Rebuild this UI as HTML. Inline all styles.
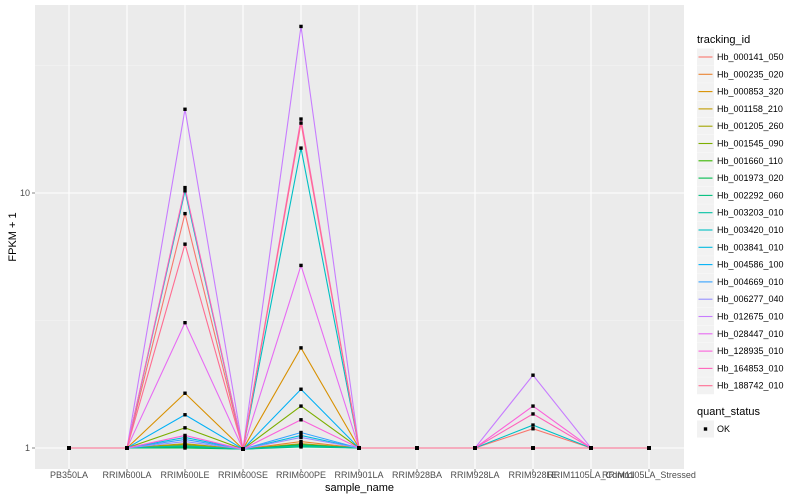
<!DOCTYPE html>
<html><head><meta charset="utf-8"><style>
body{margin:0;background:#fff;}
svg{display:block;font-family:"Liberation Sans",sans-serif;}
</style></head><body>
<svg id="chart" width="800" height="500"></svg>
<script>
const categories=["PB350LA","RRIM600LA","RRIM600LE","RRIM600SE","RRIM600PE","RRIM901LA","RRIM928BA","RRIM928LA","RRIM928LE","RRIM1105LA_Control","RRIM1105LA_Stressed"];
const seriesNames=["Hb_000141_050","Hb_000235_020","Hb_000853_320","Hb_001158_210","Hb_001205_260","Hb_001545_090","Hb_001660_110","Hb_001973_020","Hb_002292_060","Hb_003203_010","Hb_003420_010","Hb_003841_010","Hb_004586_100","Hb_004669_010","Hb_006277_040","Hb_012675_010","Hb_028447_010","Hb_128935_010","Hb_164853_010","Hb_188742_010"];
const colors=["#F8766D","#EA8331","#D89000","#C09B00","#A3A500","#7CAE00","#39B600","#00BB4E","#00BF7D","#00C1A3","#00BFC4","#00BAE0","#00B0F6","#35A2FF","#9590FF","#C77CFF","#E76BF3","#FA62DB","#FF62BC","#FF6C91"];
const valLE=[8.3,1.02,1.64,1.04,1.03,1.2,1.01,1.0,1.01,1.02,10.2,1.1,1.35,1.08,1.06,21.3,3.1,1.12,10.5,6.3];
const valPE=[1.03,1.06,2.47,1.04,1.03,1.46,1.02,1.03,1.01,1.02,15,1.12,1.7,1.15,1.1,45,5.2,1.29,19.5,18.8];
const val928LE=[1.19,1,1,1,1,1,1,1,1,1,1.23,1,1,1,1,1.93,1,1.46,1.36,1];
const valSE=0.99;
const yTicks=[1,10];
const yMinor=[Math.sqrt(10),Math.sqrt(1000)];

const svg=document.getElementById('chart');
const NS="http://www.w3.org/2000/svg";
function mk(tag,attrs,parent){const e=document.createElementNS(NS,tag);for(const k in attrs)e.setAttribute(k,attrs[k]);(parent||svg).appendChild(e);return e;}
const PL=35,PR=684,PT=5,PB=469;
const xScale=i=>69+i*58;
const yScale=v=>448-255*Math.log10(v);

const panel=mk('rect',{x:PL,y:PT,width:PR-PL,height:PB-PT,fill:'#EBEBEB'});


yMinor.forEach(v=>{const l=mk('line',{x1:PL,x2:PR,y1:yScale(v),y2:yScale(v),stroke:'#F5F5F5','stroke-width':0.6});

});
yTicks.forEach(v=>{const l=mk('line',{x1:PL,x2:PR,y1:yScale(v),y2:yScale(v),stroke:'#fff','stroke-width':1.1});

});
categories.forEach((c,i)=>{const l=mk('line',{x1:xScale(i),x2:xScale(i),y1:PT,y2:PB,stroke:'#fff','stroke-width':1.1});

});

function seriesValues(s){return categories.map((c,i)=>i===2?valLE[s]:i===4?valPE[s]:i===8?val928LE[s]:i===3?valSE:1);}
seriesNames.forEach((n,s)=>{const vals=seriesValues(s);
const p=mk('polyline',{points:vals.map((v,i)=>xScale(i)+','+yScale(v)).join(' '),fill:'none',stroke:colors[s],'stroke-width':1.1});

});
seriesNames.forEach((n,s)=>{seriesValues(s).forEach((v,i)=>{
const r=mk('rect',{x:xScale(i)-1.7,y:yScale(v)-1.7,width:3.4,height:3.4,fill:'#000'});

});});

yTicks.forEach(v=>{const y=yScale(v);
mk('line',{x1:PL-3,x2:PL,y1:y,y2:y,stroke:'#333','stroke-width':0.6});
const t=mk('text',{x:PL-5,y:y+3,'text-anchor':'end','font-size':9,fill:'#4D4D4D'});t.textContent=v;

});
categories.forEach((c,i)=>{const x=xScale(i);
mk('line',{x1:x,x2:x,y1:PB,y2:PB+3,stroke:'#333','stroke-width':0.6});
const t=mk('text',{x:x,y:PB+9,'text-anchor':'middle','font-size':9,fill:'#4D4D4D'});t.textContent=c;

});
let t=mk('text',{x:(PL+PR)/2,y:491,'text-anchor':'middle','font-size':11,fill:'#000'});t.textContent='sample_name';


t=mk('text',{x:16,y:(PT+PB)/2,'text-anchor':'middle','font-size':11,fill:'#000',transform:'rotate(-90 16 '+((PT+PB)/2)+')'});t.textContent='FPKM + 1';



t=mk('text',{x:697,y:43,'font-size':11,fill:'#000'});t.textContent='tracking_id';


seriesNames.forEach((n,s)=>{const cy=57+s*17.3;
const g=mk('g',{});


mk('rect',{x:697,y:cy-8.5,width:17,height:17,fill:'#F2F2F2'},g);
mk('line',{x1:698.5,x2:712.5,y1:cy,y2:cy,stroke:colors[s],'stroke-width':1.1},g);
const tt=mk('text',{x:717,y:cy+3,'font-size':9,fill:'#000'},g);tt.textContent=n;});
t=mk('text',{x:697,y:415,'font-size':11,fill:'#000'});t.textContent='quant_status';


const g2=mk('g',{});


mk('rect',{x:697,y:420.5,width:17,height:17,fill:'#F2F2F2'},g2);
mk('rect',{x:703.8,y:427.3,width:3.4,height:3.4,fill:'#000'},g2);
const tt=mk('text',{x:717,y:432,'font-size':9,fill:'#000'},g2);tt.textContent='OK';
</script>
</body></html>
